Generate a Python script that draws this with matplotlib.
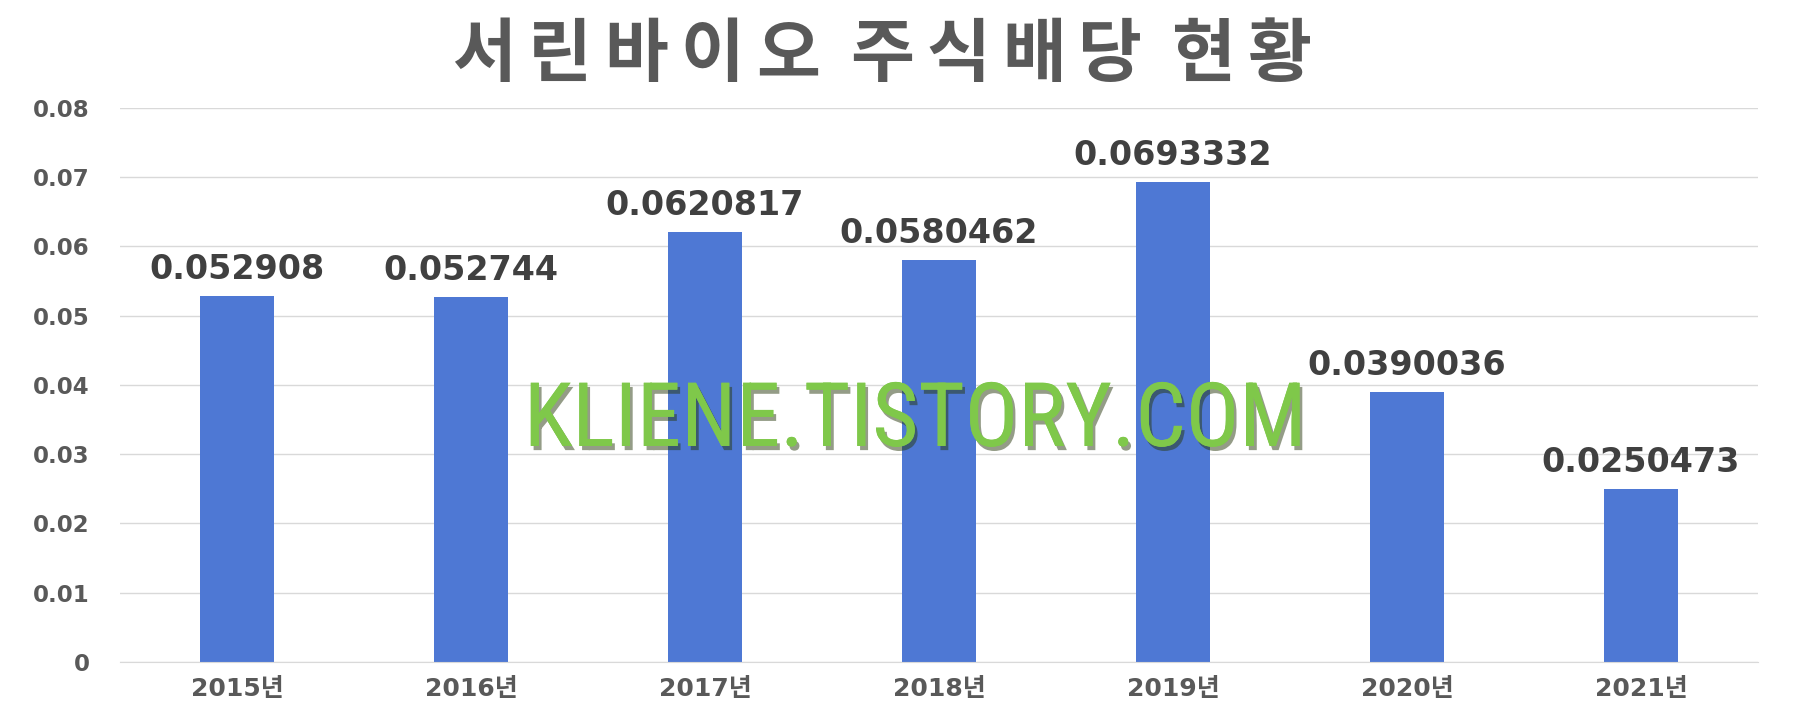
import matplotlib.pyplot as plt
import matplotlib.patheffects as pe
import numpy as np

years = ["2015년", "2016년", "2017년", "2018년", "2019년", "2020년", "2021년"]
dividend = [0.052908, 0.052744, 0.0620817, 0.0580462, 0.0693332, 0.0390036, 0.0250473]
labels = ["0.052908", "0.052744", "0.0620817", "0.0580462", "0.0693332", "0.0390036", "0.0250473"]
yticks = [0, 0.01, 0.02, 0.03, 0.04, 0.05, 0.06, 0.07, 0.08]
ytick_labels = ["0", "0.01", "0.02", "0.03", "0.04", "0.05", "0.06", "0.07", "0.08"]
title = "서린바이오 주식배당 현황"
watermark = "KLIENE.TISTORY.COM"

plt.rcParams['font.family'] = ['DejaVu Sans', 'Noto Sans CJK KR']

W, H = 1796, 720
fig = plt.figure(figsize=(W / 100, H / 100), dpi=100)
ax = fig.add_axes([0.0668, 0.0806, 0.912, 0.7694])

x = np.arange(len(years))
ax.bar(x, dividend, width=0.315, color="#4e78d4", zorder=2)

for xi, v, lab in zip(x, dividend, labels):
    ax.annotate(lab, (xi, v), xytext=(0, 12), textcoords="offset points",
                ha="center", va="baseline", fontsize=24, fontweight="bold",
                color="#404040", zorder=4)

ax.set_xlim(-0.5, len(years) - 0.5)
ax.set_ylim(0, 0.08)
ax.set_yticks(yticks)
ax.set_yticklabels(ytick_labels, fontsize=16.5, fontweight="bold", color="#595959")
ax.set_xticks(x)
ax.set_xticklabels(years, fontsize=18, fontweight="bold", color="#595959")
ax.tick_params(length=0)
ax.tick_params(axis="y", pad=22)
ax.tick_params(axis="x", pad=11)
ax.grid(axis="y", color="#d9d9d9", linewidth=1, zorder=0)
for s in ["top", "right", "left"]:
    ax.spines[s].set_visible(False)
ax.spines["bottom"].set_color("#d9d9d9")

# title, one syllable at a time (the original is wide and spaced out)
adv, space_adv = 76, 18
xpos = 446
for ch in title:
    if ch == " ":
        xpos += space_adv
        continue
    fig.text((xpos + adv / 2) / W, 0.922, ch, ha="center", va="center",
             fontsize=50, fontweight="black", color="#595959",
             family=["Noto Sans CJK KR"])
    xpos += adv

# watermark
fig.text(0.5095, 0.3806, watermark, ha="center", va="baseline",
         fontsize=64, color="#7fc84a", zorder=5,
         family=["Roboto Condensed", "Liberation Sans Narrow", "Noto Sans"],
         path_effects=[pe.withSimplePatchShadow(offset=(2, -3), shadow_rgbFace="#2a3a10", alpha=0.5),
                       pe.Normal()])

fig.savefig("out.png", dpi=100)
